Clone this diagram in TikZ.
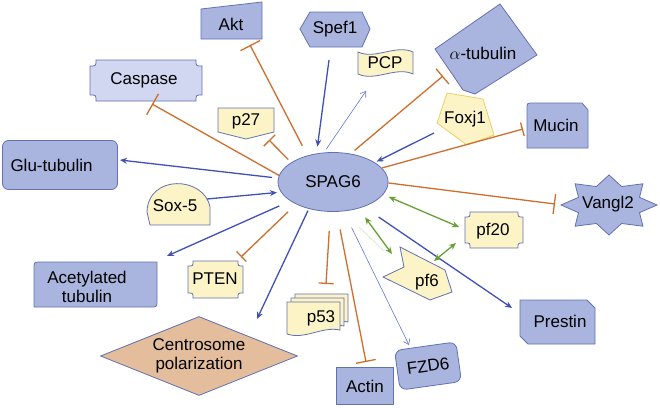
\documentclass[tikz,border=0pt]{standalone}
\usepackage{fontspec}
\setmainfont{Liberation Sans}
\usetikzlibrary{arrows.meta}
\usetikzlibrary{calc}
\usetikzlibrary{shapes.geometric}
\definecolor{nblue}{RGB}{170,181,223}
\definecolor{nline}{RGB}{98,113,178}
\definecolor{npale}{RGB}{209,215,240}
\definecolor{nyellow}{RGB}{252,244,199}
\definecolor{ngold}{RGB}{238,206,96}
\definecolor{ntan}{RGB}{228,190,156}
\definecolor{morange}{RGB}{206,110,45}
\definecolor{mblue}{RGB}{63,81,181}
\definecolor{mthin}{RGB}{100,120,210}
\definecolor{mgreen}{RGB}{102,160,50}
\newcommand{\nodefont}{\fontsize{17}{19.5}\selectfont}
\newcommand{\plaque}[6]{%
  \draw[#1] ({#2+#6},#3) -- ({#4-#6},#3) .. controls ({#4-#6},{#3+#6}) .. (#4,{#3+#6})
    -- (#4,{#5-#6}) .. controls ({#4-#6},{#5-#6}) .. ({#4-#6},#5)
    -- ({#2+#6},#5) .. controls ({#2+#6},{#5-#6}) .. (#2,{#5-#6})
    -- (#2,{#3+#6}) .. controls ({#2+#6},{#3+#6}) .. ({#2+#6},#3) -- cycle;}
\tikzset{box/.style = {draw=nline, fill=nblue, line width=0.8pt}}
\tikzset{ybox/.style = {draw=nline, fill=nyellow, line width=0.8pt}}
\tikzset{lbl/.style = {font=\nodefont, inner sep=0, align=center}}
\tikzset{act/.style = {mblue, line width=1.3pt, -{Stealth[length=7pt, width=6pt]}}}
\tikzset{weak/.style = {mthin, line width=0.6pt, -{Straight Barb[length=5pt, width=7pt]}}}
\tikzset{inhib/.style = {morange, line width=1.3pt, -{Bar[width=#1]}}, inhib/.default = 18pt}
\tikzset{mutual/.style = {mgreen, line width=1.3pt, {Stealth[length=7pt, width=6pt]}-{Stealth[length=7pt, width=6pt]}}}

\begin{document}
\begin{tikzpicture}[x=1pt, y=-1pt]
  \useasboundingbox (0,0) rectangle (660,407);

  % outlines
  \draw[box] (201,9) -- (262,2) -- (262,39) -- (201,39) -- cycle;
  \draw[box] (300,29) -- (310,12) -- (362,12) -- (370,29) -- (362,47) -- (310,47) -- cycle;
  \draw[ybox] (358,52) .. controls (375,60) and (396,44) .. (413,52) -- (413,74)
    .. controls (396,66) and (375,82) .. (358,74) -- cycle;
  \draw[box] (435,49) -- (500,4) -- (537,55) -- (475,94) -- (463,90) -- cycle;
  \draw[draw=ngold, fill=nyellow, line width=0.8pt] (447,93) -- (483,99) -- (494,135) -- (467,145) -- (437,123) -- cycle;
  \plaque{box, fill=npale}{90}{60}{202}{101}{6}
  \draw[ybox] (218,108) -- (274,108) -- (274,132) -- (246,139) -- (218,132) -- cycle;
  \draw[box] (533,103) -- (582,103) -- (588,110) -- (588,148) -- (527,148) -- (527,109) .. controls (527,103) .. (533,103) -- cycle;
  \draw[ybox] (150,225) -- (210,225) -- (210,207) .. controls (204,176) and (148,174) .. (147,212) -- cycle;
  \draw[box, shift={(609,205)}] (0:48 and 30)
    \foreach \a in {0,45,...,315} { -- ({\a+22.5}:33 and 20) -- ({\a+45}:48 and 30) } -- cycle;
  \draw[box] (41,262) -- (157,262) -- (157,300) .. controls (157,307) .. (150,307) -- (34,307) -- (34,269) .. controls (34,262) .. (41,262) -- cycle;
  \plaque{ybox}{188}{261}{243}{298}{5}
  \foreach \d in {8,4,0} {
    \draw[ybox, shift={(\d,-\d)}] (287,302) -- (340,302) -- (340,330) .. controls (322,326) and (305,340) .. (287,334) -- cycle;
  }
  \draw[ybox] (400,247) -- (445,270) -- (452,292) -- (430,300) -- (383,277) -- (404,267) -- cycle;
  \plaque{ybox}{465}{212}{523}{248}{5}
  \draw[box] (520,300) -- (587,300) -- (595,308) -- (595,344) -- (528,344) -- (520,336) -- cycle;

  % nodes
  \node[box, ellipse, minimum width=110pt, minimum height=59pt, inner sep=0, font=\nodefont] (spag) at (333,182) {SPAG6};
  \node[box, rounded corners=6pt, minimum width=115pt, minimum height=49pt, text width=99pt, inner xsep=8pt, font=\nodefont] (glu) at (60,165) {Glu-tubulin};
  \node[draw=nline, fill=ntan, line width=0.8pt, diamond, aspect=2.5, minimum width=197pt, minimum height=79pt, inner sep=0, font=\nodefont, align=center] (cent) at (199,356) {Centrosome\\polarization};
  \node[box, minimum width=57pt, minimum height=37pt, font=\nodefont] (actin) at (365,386) {Actin};
  \node[box, rounded corners=7pt, minimum width=62pt, minimum height=40pt, rotate=8, font=\nodefont] (fzd) at (428,366) {FZD6};
  \node[lbl] (akt) at (231,24) {Akt};
  \node[lbl] (spef) at (335,29) {Spef1};
  \node[lbl] (pcp) at (385,63) {PCP};
  \node[lbl] (atub) at (483,53) {$\alpha$-tubulin};
  \node[lbl] (foxj) at (465,119) {Foxj1};
  \node[lbl] (casp) at (144,80) {Caspase};
  \node[lbl] (p27) at (246,121) {p27};
  \node[lbl] (mucin) at (556,125) {Mucin};
  \node[lbl] (sox) at (175,206) {Sox-5};
  \node[lbl] (vangl) at (608,204) {Vangl2};
  \node[lbl] (acet) at (87,287) {Acetylated\\tubulin};
  \node[lbl] (pten) at (215,279) {PTEN};
  \node[lbl] (p53) at (321,318) {p53};
  \node[lbl] (pf6) at (427,282) {pf6};
  \node[lbl] (pf20) at (493,231) {pf20};
  \node[lbl] (prestin) at (560,321) {Prestin};

  % inhibition
  \draw[inhib=22pt, shorten <=11pt] (spag.134) -- ($(akt.center)+(19,21)$);
  \draw[inhib=24pt] (spag.173) -- ($(casp.center)+(8,24)$);
  \draw[inhib=16pt, shorten <=4pt] (spag.155) -- ($(p27.center)+(23,19)$);
  \draw[inhib=20pt, shorten <=5pt] (spag.58) -- ($(atub.center)+(-40,23)$);
  \draw[inhib=14pt] (spag.16) -- ($(mucin.center)+(-33,4)$);
  \draw[inhib=20pt] (spag.359) -- ($(vangl.center)+(-53,0)$);
  \draw[inhib=14pt, shorten <=11pt] (spag.211) -- ($(pten.center)+(26,-22)$);
  \draw[inhib=15pt, shorten <=19pt] (spag.265) -- ($(p53.center)+(5,-34)$);
  \draw[inhib=20pt, shorten <=18pt] (spag.277) -- ($(actin.center)+(1,-24)$);

  % activation
  \draw[act, shorten >=7pt] ($(spef.center)+(-6,31)$) -- (spag.120);
  \draw[weak, shorten <=4pt] (spag.107) -- ($(pcp.center)+(-19,28)$);
  \draw[act, shorten >=2pt] ($(foxj.center)+(-31,14)$) -- (spag.25);
  \draw[act, shorten <=6pt] (spag.176) -- ($(glu.center)+(60,-5)$);
  \draw[act, shorten >=4pt] ($(sox.center)+(32,-7)$) -- (spag.191);
  \draw[act, shorten <=12pt] (spag.204) -- ($(acet.center)+(80,-31)$);
  \draw[act, shorten <=2pt] (spag.228) -- ($(cent.center)+(58,-37)$);
  \draw[weak, shorten <=18pt] (spag.290) -- ($(fzd.center)+(-19,-21)$);
  \draw[act, shorten <=18pt] (spag.321) -- ($(prestin.center)+(-48,-13)$);

  % binding
  \draw[mutual, shorten <=6pt] (spag.346) -- ($(pf20.center)+(-34,-4)$);
  \draw[mutual, shorten <=11pt] (spag.314) -- ($(pf6.center)+(-35,-28)$);
  \draw[mutual] ($(pf6.center)+(7,-21)$) -- ($(pf20.center)+(-37,12)$);
  \draw[mgreen!20, line width=1pt, shorten <=23pt] (spag.288) -- ($(pf6.center)+(-43,-31)$);
\end{tikzpicture}
\end{document}
